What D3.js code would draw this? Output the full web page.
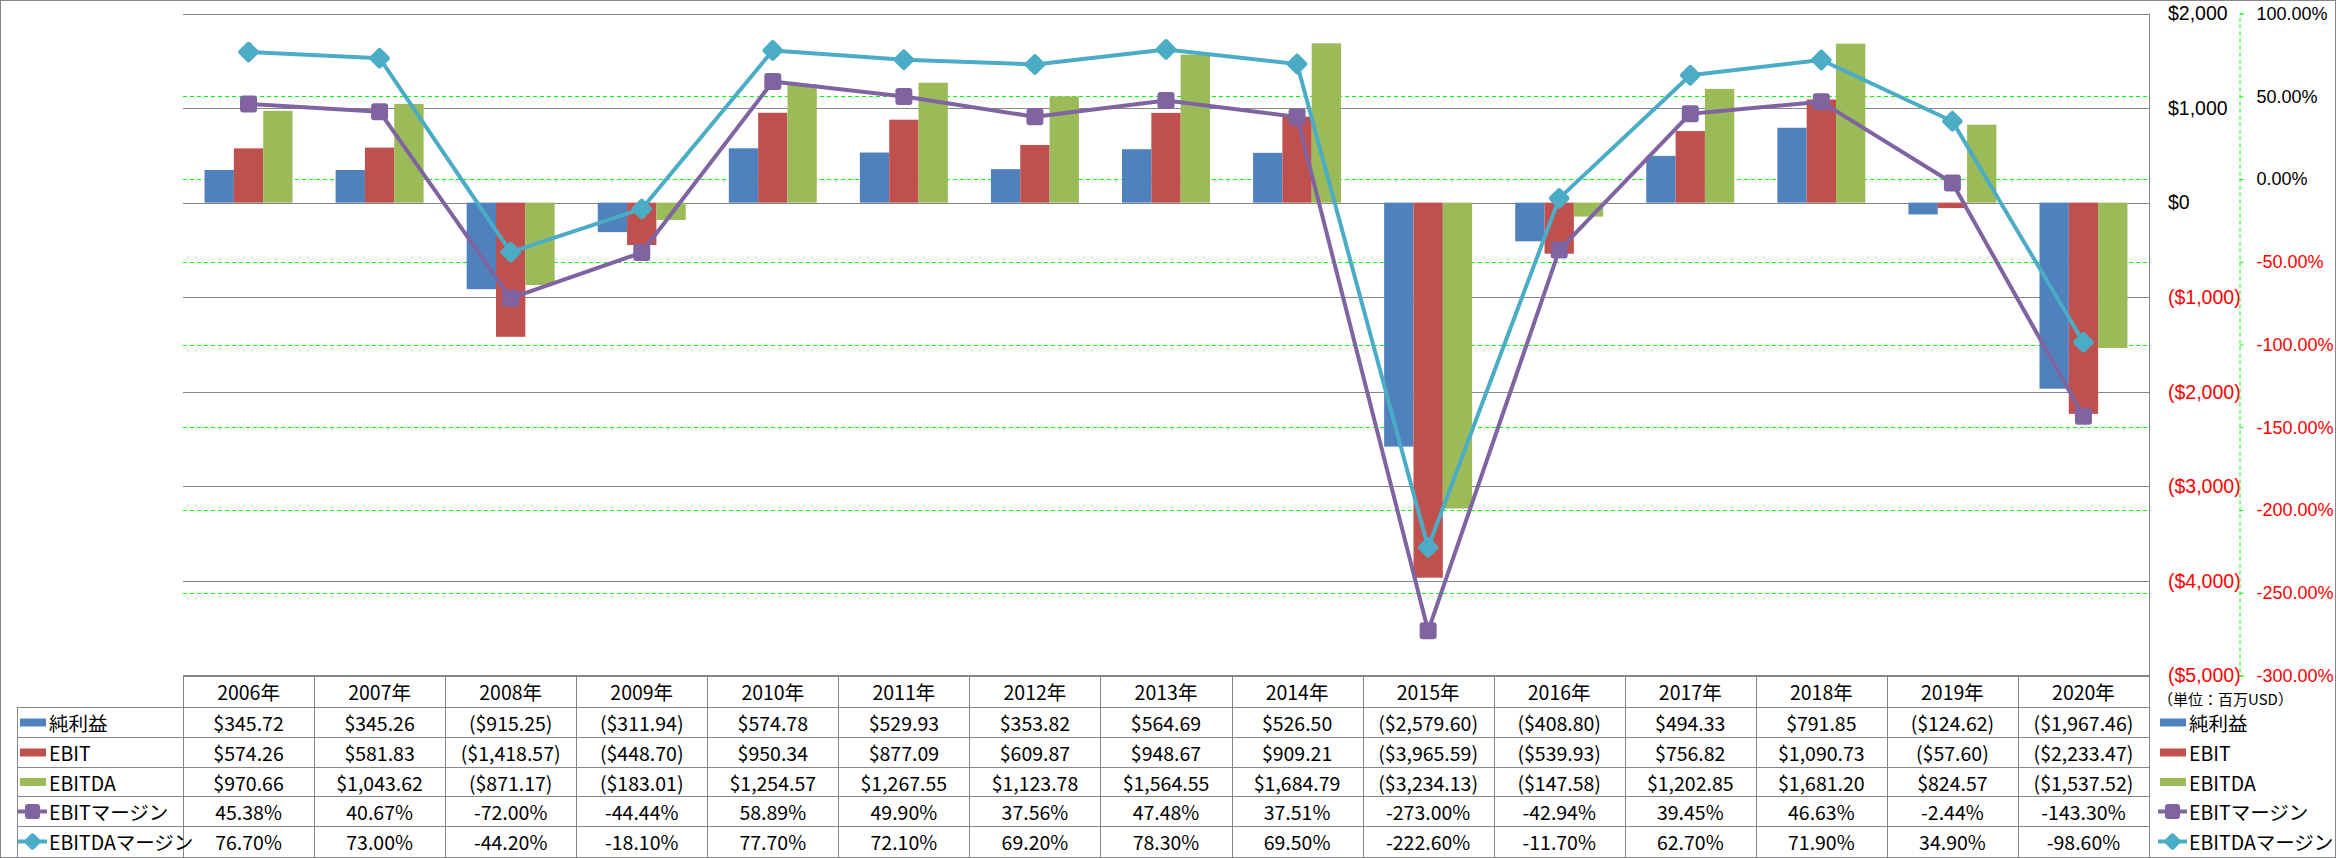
<!DOCTYPE html>
<html><head><meta charset="utf-8">
<script src="https://cdn.jsdelivr.net/npm/d3@7"></script>
<style>
html,body{margin:0;padding:0;background:#fff;}
svg{display:block;font-family:"Noto Sans CJK JP","Noto Sans",sans-serif;}
</style></head>
<body>
<script>
// ---------- data ----------
const years = ["2006年","2007年","2008年","2009年","2010年","2011年","2012年","2013年","2014年","2015年","2016年","2017年","2018年","2019年","2020年"];
const netIncome = [345.72,345.26,-915.25,-311.94,574.78,529.93,353.82,564.69,526.50,-2579.60,-408.80,494.33,791.85,-124.62,-1967.46];
const ebit = [574.26,581.83,-1418.57,-448.70,950.34,877.09,609.87,948.67,909.21,-3965.59,-539.93,756.82,1090.73,-57.60,-2233.47];
const ebitda = [970.66,1043.62,-871.17,-183.01,1254.57,1267.55,1123.78,1564.55,1684.79,-3234.13,-147.58,1202.85,1681.20,824.57,-1537.52];
const ebitMargin = [45.38,40.67,-72.00,-44.44,58.89,49.90,37.56,47.48,37.51,-273.00,-42.94,39.45,46.63,-2.44,-143.30];
const ebitdaMargin = [76.70,73.00,-44.20,-18.10,77.70,72.10,69.20,78.30,69.50,-222.60,-11.70,62.70,71.90,34.90,-98.60];
const barNames = ["純利益","EBIT","EBITDA"];
const lineNames = ["EBITマージン","EBITDAマージン"];
const dollarTicks = [-5000,-4000,-3000,-2000,-1000,0,1000,2000];
const pctTicks = [-300,-250,-200,-150,-100,-50,0,50,100];
const unitLabel = "（単位：百万USD）";

// ---------- styles ----------
const barColors = ["#4F81BD","#C0504D","#9BBB59"];
const lineColors = ["#8064A2","#4BACC6"];
const W = 2336, H = 858;
const L = 183, R = 2149, T = 13.5, B = 675.5;
const FS = 19.5;

const svg = d3.select("body").append("svg").attr("width", W).attr("height", H);

const x = d3.scaleBand().domain(years).range([L, R]).padding(0);
const xs = d3.scaleBand().domain(barNames).range([0, x.bandwidth()]).paddingInner(0).paddingOuter(0.735);
const y = d3.scaleLinear().domain([-5000, 2000]).range([B, T]);
const y2 = d3.scaleLinear().domain([-300, 100]).range([B, T]);

const fmtD = v => v >= 0 ? "$" + d3.format(",.2f")(v) : "($" + d3.format(",.2f")(-v) + ")";
const fmtDa = v => v >= 0 ? "$" + d3.format(",")(v) : "($" + d3.format(",")(-v) + ")";
const fmtP = v => (v < 0 ? "-" : "") + d3.format(".2f")(Math.abs(v)) + "%";

// outer border
svg.append("rect").attr("x",0.5).attr("y",0.5).attr("width",W-1).attr("height",H-1)
  .attr("fill","none").attr("stroke","#868686");

// gray gridlines
const gGrid = svg.append("g").attr("transform",`translate(${L},0)`)
  .call(d3.axisLeft(y).tickValues(dollarTicks).tickSize(-(R-L)).tickFormat(""));
gGrid.select(".domain").remove();
gGrid.selectAll("line").attr("stroke","#868686").attr("shape-rendering","crispEdges");

// green dashed gridlines
const gGrid2 = svg.append("g").attr("transform",`translate(${L},0)`)
  .call(d3.axisLeft(y2).tickValues(pctTicks.filter(d => d !== 100 && d !== -300)).tickSize(-(R-L)).tickFormat(""));
gGrid2.select(".domain").remove();
gGrid2.selectAll("line").attr("stroke","#00FF00").attr("stroke-dasharray","4,3").attr("shape-rendering","crispEdges");

// plot right border
svg.append("line").attr("x1",R+0.5).attr("x2",R+0.5).attr("y1",T).attr("y2",H)
  .attr("stroke","#868686");

// bars
const barSeries = [netIncome, ebit, ebitda];
barSeries.forEach((vals, si) => {
  svg.append("g").selectAll("rect").data(vals).join("rect")
    .attr("x", (d,i) => x(years[i]) + xs(barNames[si]))
    .attr("width", xs.bandwidth())
    .attr("y", d => y(Math.max(0, d)))
    .attr("height", d => Math.abs(y(d) - y(0)))
    .attr("fill", barColors[si]);
});

// lines
const lineSeries = [ebitMargin, ebitdaMargin];
const cx = i => x(years[i]) + x.bandwidth()/2;
function marker(sel, kind, color, s) {
  if (kind === 0) {
    sel.append("rect").attr("x",-s/2).attr("y",-s/2).attr("width",s).attr("height",s)
      .attr("rx",3).attr("fill",color);
  } else {
    sel.append("rect").attr("x",-s/2).attr("y",-s/2).attr("width",s).attr("height",s)
      .attr("rx",2.5).attr("transform","rotate(45)").attr("fill",color);
  }
}
lineSeries.forEach((vals, si) => {
  const line = d3.line().x((d,i) => cx(i)).y(d => y2(d));
  svg.append("path").datum(vals).attr("d", line).attr("fill","none")
    .attr("stroke", lineColors[si]).attr("stroke-width", 4).attr("stroke-linejoin","round");
  vals.forEach((v,i) => {
    const g = svg.append("g").attr("transform",`translate(${cx(i)},${y2(v)})`);
    marker(g, si, lineColors[si], si === 0 ? 17 : 16);
  });
});

// dollar axis (labels on the right)
const gA = svg.append("g").attr("transform",`translate(${R},0)`)
  .call(d3.axisRight(y).tickValues(dollarTicks).tickSize(0).tickPadding(19).tickFormat(fmtDa));
gA.select(".domain").remove();
gA.selectAll("text").attr("font-size",FS).attr("font-family",null)
  .attr("fill", d => d < 0 ? "#FF0000" : "#000");

// percent axis
const PX = 2239.5;
const gP = svg.append("g").attr("transform",`translate(${PX},0)`)
  .call(d3.axisRight(y2).tickValues(pctTicks).tickSize(4).tickPadding(13).tickFormat(fmtP));
gP.select(".domain").attr("stroke","#00FF00").attr("stroke-dasharray","4,3");
gP.selectAll(".tick line").attr("stroke","#00FF00");
gP.selectAll("text").attr("font-size",18).attr("font-family",null)
  .attr("fill", d => d < 0 ? "#FF0000" : "#000");

// ---------- data table ----------
const rowLines = [675.5, 707.5, 737.5, 767.5, 796.5, 826.5];
const tBottom = 857;
const tg = svg.append("g").attr("stroke","#868686").attr("shape-rendering","crispEdges");
tg.append("line").attr("x1",L).attr("x2",R).attr("y1",rowLines[0]).attr("y2",rowLines[0]);
rowLines.slice(1).forEach(yy => tg.append("line").attr("x1",17).attr("x2",R).attr("y1",yy).attr("y2",yy));
years.forEach(yr => tg.append("line").attr("x1",x(yr)+0.5).attr("x2",x(yr)+0.5).attr("y1",rowLines[0]).attr("y2",tBottom));
tg.append("line").attr("x1",17.5).attr("x2",17.5).attr("y1",rowLines[1]).attr("y2",tBottom);

const rowCenters = [691, 722.5, 752.5, 782, 811.5, 841.5];
// header
svg.append("g").selectAll("text").data(years).join("text")
  .attr("x", d => x(d) + x.bandwidth()/2).attr("y", rowCenters[0])
  .attr("text-anchor","middle").attr("dominant-baseline","central")
  .attr("font-size",FS).attr("fill","#000").text(d => d);

const tableRows = [
  {name: barNames[0], vals: netIncome, fmt: fmtD, kind: "bar", c: barColors[0]},
  {name: barNames[1], vals: ebit, fmt: fmtD, kind: "bar", c: barColors[1]},
  {name: barNames[2], vals: ebitda, fmt: fmtD, kind: "bar", c: barColors[2]},
  {name: lineNames[0], vals: ebitMargin, fmt: fmtP, kind: 0, c: lineColors[0]},
  {name: lineNames[1], vals: ebitdaMargin, fmt: fmtP, kind: 1, c: lineColors[1]}
];
tableRows.forEach((r, ri) => {
  const cy = rowCenters[ri+1];
  svg.append("g").selectAll("text").data(r.vals).join("text")
    .attr("x", (d,i) => x(years[i]) + x.bandwidth()/2).attr("y", cy)
    .attr("text-anchor","middle").attr("dominant-baseline","central")
    .attr("font-size",FS).attr("fill","#000").text(d => r.fmt(d));
  // legend keys: left (in table) and right
  [[20, 49], [2160, 2189]].forEach(([kx, tx]) => {
    const g = svg.append("g");
    if (r.kind === "bar") {
      g.append("rect").attr("x",kx).attr("y",cy-4).attr("width",26).attr("height",8).attr("fill",r.c);
    } else {
      g.append("line").attr("x1",kx-2).attr("x2",kx+27).attr("y1",cy).attr("y2",cy)
        .attr("stroke",r.c).attr("stroke-width",4);
      const m = g.append("g").attr("transform",`translate(${kx+12.5},${cy})`);
      marker(m, r.kind, r.c, r.kind === 0 ? 15 : 13);
    }
    g.append("text").attr("x",tx).attr("y",cy).attr("dominant-baseline","central")
      .attr("font-size",FS).attr("fill","#000").text(r.name);
  });
});

// unit label
svg.append("text").attr("x",2158).attr("y",698).attr("dominant-baseline","central")
  .attr("font-size",15).attr("fill","#000").text(unitLabel);
</script>
</body></html>
